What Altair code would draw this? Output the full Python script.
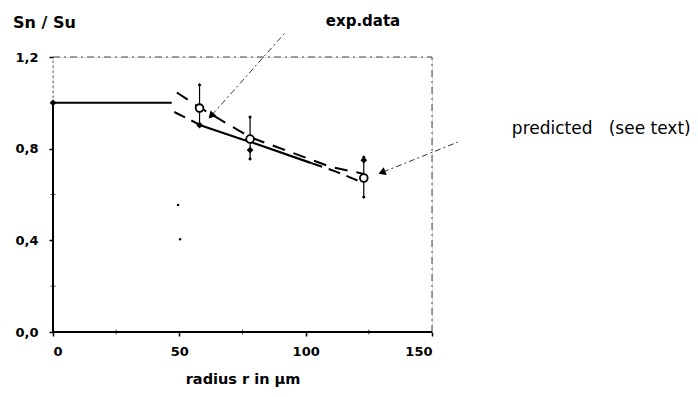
import altair as alt
import pandas as pd

# ---- data ----
exp_x = [58, 78, 123]
exp_y = [0.977, 0.842, 0.672]
exp_lo = [0.903, 0.755, 0.589]
exp_hi = [1.078, 0.938, 0.763]

pred_pts_x = [0, 58, 78, 123]
pred_pts_y = [1.0, 0.903, 0.794, 0.75]

flat_x = [0, 47]
flat_y = [1.0, 1.0]

lower_solid_x = [58, 75, 78, 102]
lower_solid_y = [0.903, 0.84, 0.83, 0.738]
lower_dash_x = [48, 58, 102, 112, 123]
lower_dash_y = [0.96, 0.905, 0.738, 0.70, 0.65]
lower_dash_seg = ["a", "a", "b", "b", "b"]

upper_dash_x = [49, 58, 78, 110, 123]
upper_dash_y = [1.045, 0.98, 0.85, 0.72, 0.69]

arrow_id = ["exp", "exp", "pred", "pred"]
arrow_x = [91.8, 62.9, 160.3, 130.6]
arrow_y = [1.305, 0.947, 0.829, 0.698]
arrow_head_x = [62.9, 130.6]
arrow_head_y = [0.947, 0.698]
arrow_head_angle = [222, 248]

speck_x = [49.5, 50.3]
speck_y = [0.554, 0.405]

labels = ["Sn / Su", "exp.data", "predicted\u00a0\u00a0 (see text)"]
label_x = [-15.8, 122.7, 181.6]
label_y = [1.35, 1.357, 0.888]

TFONT = "DejaVu Sans"
xs = alt.Scale(domain=[0, 150], nice=False)
ys = alt.Scale(domain=[0, 1.2], nice=False)


def X(field="x", axis=alt.Undefined):
    return alt.X(f"{field}:Q", scale=xs, axis=axis)


def Y(field="y", axis=alt.Undefined):
    return alt.Y(f"{field}:Q", scale=ys, axis=axis)


x_axis = alt.Axis(values=[0, 50, 100, 150], title="radius r in µm", domain=False,
                  grid=False, tickSize=4, tickColor="black", tickWidth=1.5,
                  labelFont=TFONT, labelFontSize=13, labelFontWeight="bold",
                  labelColor="black", labelPadding=9, titleFont=TFONT, titleFontSize=14.5,
                  titleFontWeight="bold", titleColor="black", titlePadding=14)
y_axis = alt.Axis(values=[0, 0.4, 0.8, 1.2], title=None, domain=False, grid=False,
                  tickSize=4, tickColor="black", tickWidth=1.5, labelFont=TFONT,
                  labelFontSize=13, labelFontWeight="bold", labelColor="black",
                  labelPadding=11,
                  labelExpr="replace(format(datum.value, '.1f'), '.', ',')")

# frame
frame = pd.DataFrame({
    "x": [0, 0, 0, 0, 150],
    "y": [0, 0, 1.0, 1.2, 0],
    "x2": [150, 0, 0, 150, 150],
    "y2": [0, 1.0, 1.2, 1.2, 1.2],
    "style": ["solid", "solid", "dot", "dash", "dash"],
})
axes_layer = alt.Chart(pd.DataFrame({"x": [0], "y": [0]})).mark_point(opacity=0).encode(
    x=X(axis=x_axis), y=Y(axis=y_axis))
frame_solid = alt.Chart(frame[frame["style"] == "solid"]).mark_rule(
    color="black", strokeWidth=2).encode(x=X(), y=Y(), x2="x2:Q", y2="y2:Q")
frame_dot = alt.Chart(frame[frame["style"] == "dot"]).mark_rule(
    color="#555", strokeWidth=1, strokeDash=[2, 3]).encode(x=X(), y=Y(), x2="x2:Q", y2="y2:Q")
frame_dash = alt.Chart(frame[frame["style"] == "dash"]).mark_rule(
    color="#444", strokeWidth=1, strokeDash=[7, 4, 2, 4]).encode(x=X(), y=Y(), x2="x2:Q", y2="y2:Q")

minor = pd.DataFrame({"y": [0.2, 0.6, 1.0]})
minor_ticks = alt.Chart(minor).mark_tick(color="black", size=5, thickness=1,
                                          orient="horizontal").encode(
    y=Y(), x=alt.value(0))
minor_x = pd.DataFrame({"x": [25, 75, 125]})
minor_xticks = alt.Chart(minor_x).mark_tick(color="black", size=5, thickness=1,
                                            orient="vertical").encode(
    x=X(), y=alt.value(275))

flat = alt.Chart(pd.DataFrame({"x": flat_x, "y": flat_y})).mark_line(
    color="black", strokeWidth=2).encode(x=X(), y=Y())
lower_solid = alt.Chart(pd.DataFrame({"x": lower_solid_x, "y": lower_solid_y})).mark_line(
    color="black", strokeWidth=2.2).encode(x=X(), y=Y())
lower_dash = alt.Chart(pd.DataFrame({"x": lower_dash_x, "y": lower_dash_y,
                                     "seg": lower_dash_seg})).mark_line(
    color="black", strokeWidth=2, strokeDash=[12, 7]).encode(x=X(), y=Y(), detail="seg:N")
upper_dash = alt.Chart(pd.DataFrame({"x": upper_dash_x, "y": upper_dash_y})).mark_line(
    color="black", strokeWidth=2, strokeDash=[13, 9]).encode(x=X(), y=Y())

err_df = pd.DataFrame({"x": exp_x, "lo": exp_lo, "hi": exp_hi})
err = alt.Chart(err_df).mark_rule(color="black", strokeWidth=1.2).encode(
    x=X(), y=Y("lo"), y2="hi:Q")
caps_df = pd.DataFrame({"x": exp_x + exp_x, "y": exp_lo + exp_hi})
caps = alt.Chart(caps_df).mark_point(shape="diamond", filled=True, color="black",
                                     size=14, opacity=1).encode(x=X(), y=Y())

pred_pts = alt.Chart(pd.DataFrame({"x": pred_pts_x, "y": pred_pts_y})).mark_point(
    shape="diamond", filled=True, color="black", size=45, opacity=1).encode(x=X(), y=Y())
exp_pts = alt.Chart(pd.DataFrame({"x": exp_x, "y": exp_y})).mark_point(
    shape="circle", filled=True, fill="white", stroke="black", strokeWidth=1.8,
    size=60, opacity=1).encode(x=X(), y=Y())

arrows = alt.Chart(pd.DataFrame({"x": arrow_x, "y": arrow_y, "id": arrow_id})).mark_line(
    color="#333", strokeWidth=1, strokeDash=[6, 3, 2, 3]).encode(x=X(), y=Y(), detail="id:N")
heads = alt.Chart(pd.DataFrame({"x": arrow_head_x, "y": arrow_head_y,
                                "a": arrow_head_angle})).mark_point(
    shape="triangle", filled=True, color="black", size=70, opacity=1).encode(
    x=X(), y=Y(), angle=alt.Angle("a:Q", scale=None))

specks = alt.Chart(pd.DataFrame({"x": speck_x, "y": speck_y})).mark_point(
    shape="circle", filled=True, color="black", size=6, opacity=1).encode(x=X(), y=Y())

text_df = pd.DataFrame({"t": labels, "x": label_x, "y": label_y})
title_txt = alt.Chart(text_df.iloc[[0]]).mark_text(
    align="left", baseline="middle", font=TFONT, fontSize=16, fontWeight="bold",
    color="black").encode(x=X(), y=Y(), text="t:N")
exp_txt = alt.Chart(text_df.iloc[[1]]).mark_text(
    align="center", baseline="middle", font=TFONT, fontSize=15, fontWeight="bold",
    color="black").encode(x=X(), y=Y(), text="t:N")
pred_txt = alt.Chart(text_df.iloc[[2]]).mark_text(
    align="left", baseline="middle", font=TFONT, fontSize=17, fontWeight="normal",
    color="black").encode(x=X(), y=Y(), text="t:N")

chart = alt.layer(
    axes_layer, frame_dot, frame_dash, frame_solid, minor_ticks, minor_xticks,
    flat, lower_dash, lower_solid, upper_dash, arrows, err, caps,
    pred_pts, exp_pts, heads, specks, title_txt, exp_txt, pred_txt,
).properties(
    width=379, height=275,
    autosize=alt.AutoSizeParams(type="none"),
    padding={"left": 45, "top": 49, "right": 258, "bottom": 57},
).configure_view(stroke=None).configure(background="white")

chart.save("out.html", embed_options={"renderer": "svg", "actions": False})
